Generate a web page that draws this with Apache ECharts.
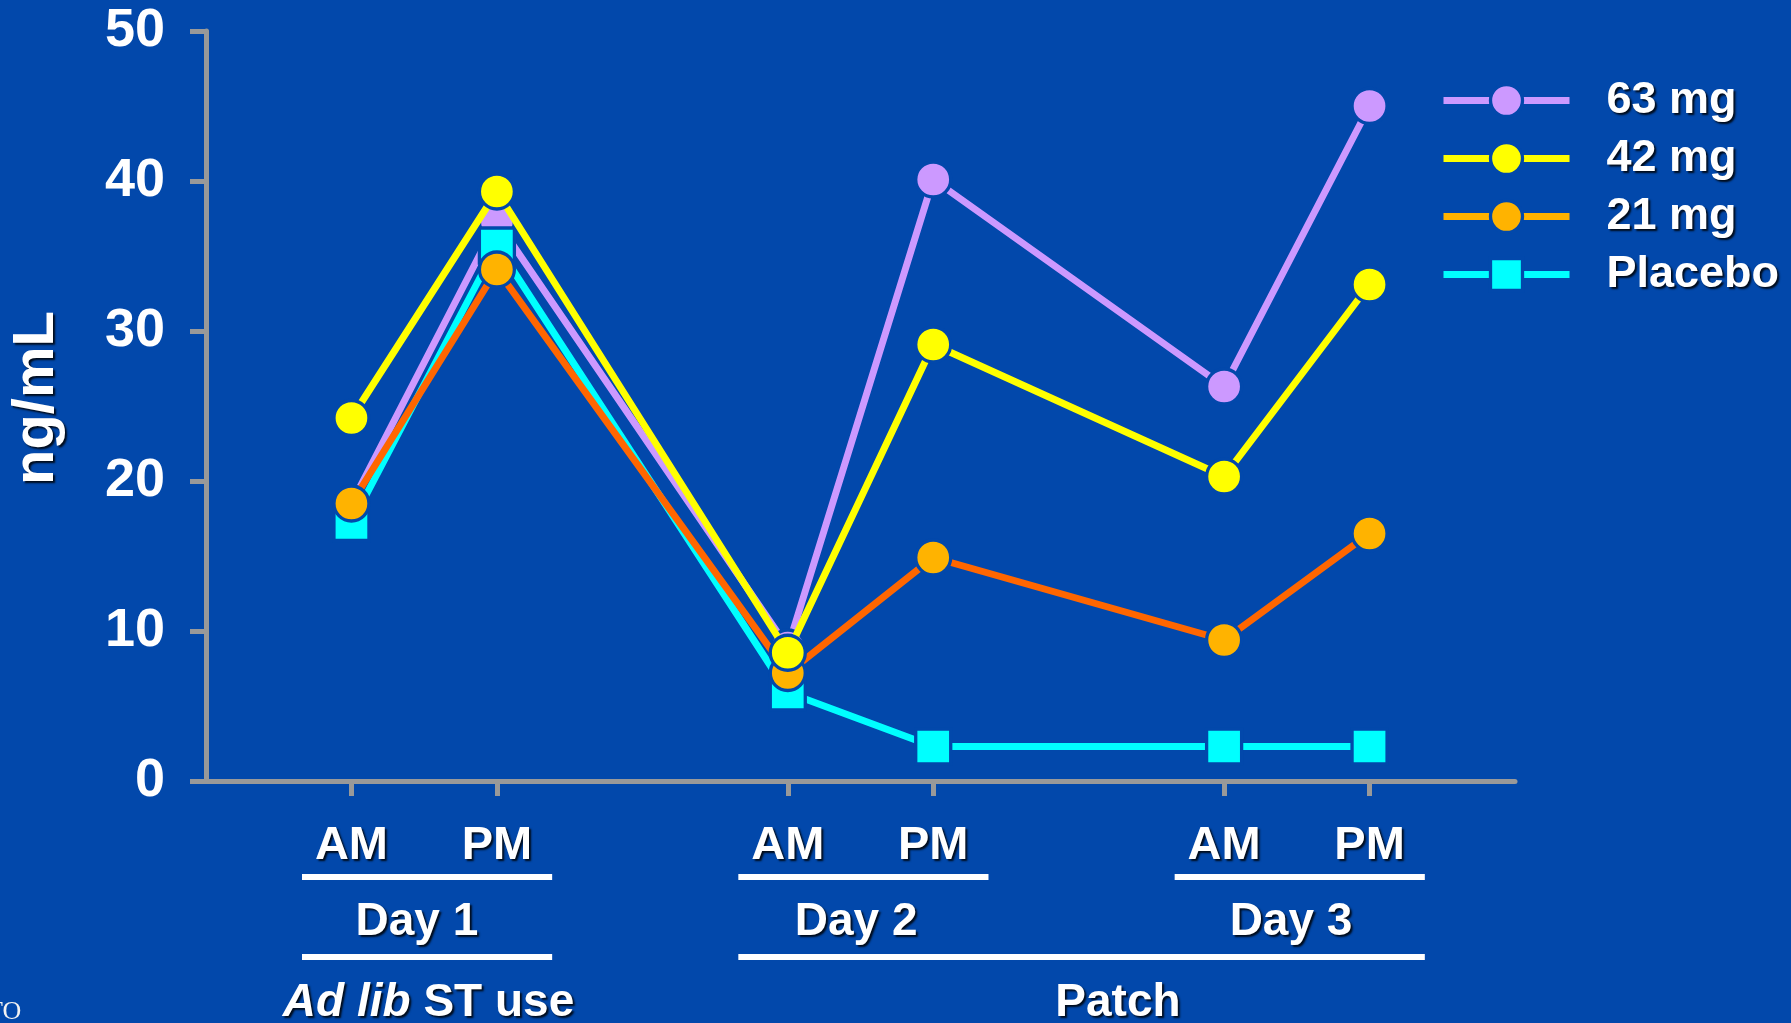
<!DOCTYPE html>
<html>
<head>
<meta charset="utf-8">
<title>Plasma nicotine by dose</title>
<script src="https://cdn.jsdelivr.net/npm/echarts@6/dist/echarts.min.js"></script>
<style>
  html, body { margin: 0; padding: 0; background: #0248AB; }
  #chart { width: 1791px; height: 1023px; }
</style>
</head>
<body>
<div id="chart"></div>
<script>
// Sampling slots along the time axis (gaps between days are empty slots)
const slotLabels = ['AM', 'PM', 'AM', 'PM', 'AM', 'PM'];
const slotPositions = [1, 2, 4, 5, 7, 8];

// Concentrations, ng/mL
const mg63 = [18.5, 37.3, 8.9, 40.1, 26.3, 45.0];
const mg42 = [24.2, 39.3, 8.55, 29.1, 20.3, 33.1];
const mg21 = [18.5, 34.1, 7.2, 14.9, 9.4, 16.5];
const placebo = [17.2, 35.7, 5.9, 2.3, 2.3, 2.3];

// Y axis range
const yMin = 0, yMax = 50, yStep = 10;

// Group captions under the axis
const dayGroups = [
  { label: 'Day 1', from: 1, to: 2, mid: 1.45 },
  { label: 'Day 2', from: 4, to: 5, mid: 4.47 },
  { label: 'Day 3', from: 7, to: 8, mid: 7.46 }
];
const phaseGroups = [
  { label: '{i|Ad lib} ST use', from: 1, to: 2, mid: 1.53 },
  { label: 'Patch', from: 4, to: 8, mid: 6.27 }
];

const BG = '#0248AB';
const FONT = '"Liberation Sans", Arial, sans-serif';
const SHADOW = { textShadowColor: 'rgba(0,0,0,0.85)', textShadowBlur: 2, textShadowOffsetX: 2, textShadowOffsetY: 2 };
const LINE_W = 7;

function pairs(values) {
  return values.map((v, i) => [slotPositions[i], v]);
}

function lineSeries(name, values, lineColor, markColor, symbol, z) {
  return {
    name: name,
    type: 'line',
    z: z,
    data: pairs(values),
    symbol: symbol,
    symbolSize: 35,
    showSymbol: true,
    lineStyle: { color: lineColor, width: LINE_W },
    itemStyle: { color: markColor, borderColor: BG, borderWidth: 3.3 },
    emphasis: { disabled: true },
    silent: true
  };
}

const chart = echarts.init(document.getElementById('chart'), null, { renderer: 'canvas' });

chart.setOption({
  backgroundColor: BG,
  animation: false,
  textStyle: { fontFamily: FONT },
  grid: { left: 202, right: 276, top: 31, bottom: 242, containLabel: false },
  legend: {
    orient: 'vertical',
    left: 1435,
    top: 73,
    itemWidth: 126,
    itemHeight: 40,
    itemGap: 13,
    selectedMode: false,
    itemStyle: { borderColor: BG, borderWidth: 3.3 },
    lineStyle: { width: LINE_W },
    textStyle: Object.assign({
      color: '#fff', fontSize: 45, fontWeight: 'bold', fontFamily: FONT,
      padding: [0, 0, 0, 32]
    }, SHADOW),
    data: [
      { name: '63 mg' },
      { name: '42 mg' },
      { name: '21 mg', lineStyle: { color: '#FFB300', width: LINE_W } },
      { name: 'Placebo' }
    ]
  },
  xAxis: {
    type: 'value',
    min: 0,
    max: 9,
    interval: 1,
    splitLine: { show: false },
    axisLine: { show: true, onZero: false, lineStyle: { color: '#999999', width: 5 } },
    axisTick: {
      show: true, length: 15, customValues: slotPositions,
      lineStyle: { color: '#999999', width: 5 }
    },
    axisLabel: Object.assign({
      customValues: slotPositions,
      formatter: function (v) { return slotLabels[slotPositions.indexOf(v)]; },
      color: '#fff', fontSize: 47, fontWeight: 'bold', fontFamily: FONT, margin: 41.5
    }, SHADOW)
  },
  yAxis: {
    type: 'value',
    min: yMin,
    max: yMax,
    interval: yStep,
    name: 'ng/mL',
    nameLocation: 'middle',
    nameRotate: 90,
    nameGap: 140,
    nameTextStyle: Object.assign({
      color: '#fff', fontSize: 58, fontWeight: 'bold', fontFamily: FONT,
      padding: [0, 0, 0, 16]
    }, SHADOW),
    splitLine: { show: false },
    axisLine: { show: true, lineStyle: { color: '#999999', width: 5 } },
    axisTick: { show: true, length: 16, lineStyle: { color: '#999999', width: 5 } },
    axisLabel: { color: '#fff', fontSize: 54, fontWeight: 'bold', fontFamily: FONT, margin: 41 }
  },
  series: [
    lineSeries('63 mg', mg63, '#CC99FF', '#CC99FF', 'circle', 2),
    lineSeries('Placebo', placebo, '#00FFFF', '#00FFFF', 'rect', 3),
    lineSeries('21 mg', mg21, '#FF6600', '#FFB300', 'circle', 4),
    lineSeries('42 mg', mg42, '#FFFF00', '#FFFF00', 'circle', 5)
  ]
});

// Bracket lines and captions placed under the time axis
function xPx(v) { return chart.convertToPixel({ xAxisIndex: 0 }, v); }

const graphics = [];
function addBar(from, to, yCenter) {
  const x0 = xPx(from - 0.34), x1 = xPx(to + 0.38);
  graphics.push({
    type: 'rect', silent: true,
    shape: { x: x0, y: yCenter - 3, width: x1 - x0, height: 6 },
    style: { fill: '#ffffff' }
  });
}
function addCaption(text, v, yCenter) {
  graphics.push({
    type: 'text', silent: true,
    x: xPx(v), y: yCenter,
    style: Object.assign({
      text: text,
      align: 'center',
      verticalAlign: 'middle',
      fill: '#ffffff',
      font: 'bold 46px ' + FONT,
      rich: {
        i: Object.assign({ fill: '#ffffff', font: 'italic bold 46px ' + FONT }, SHADOW)
      }
    }, SHADOW)
  });
}

dayGroups.forEach(g => { addBar(g.from, g.to, 877); addCaption(g.label, g.mid, 922.5); });
phaseGroups.forEach(g => { addBar(g.from, g.to, 957); addCaption(g.label, g.mid, 1003); });

// Footer mark at the lower left corner, partly off the page
graphics.push({
  type: 'text', silent: true, x: -13, y: 1012,
  style: { text: 'TO', fill: '#f2f2f2', font: '26px "Liberation Serif", "Times New Roman", serif', verticalAlign: 'middle' }
});

chart.setOption({ graphic: graphics });
</script>
</body>
</html>
